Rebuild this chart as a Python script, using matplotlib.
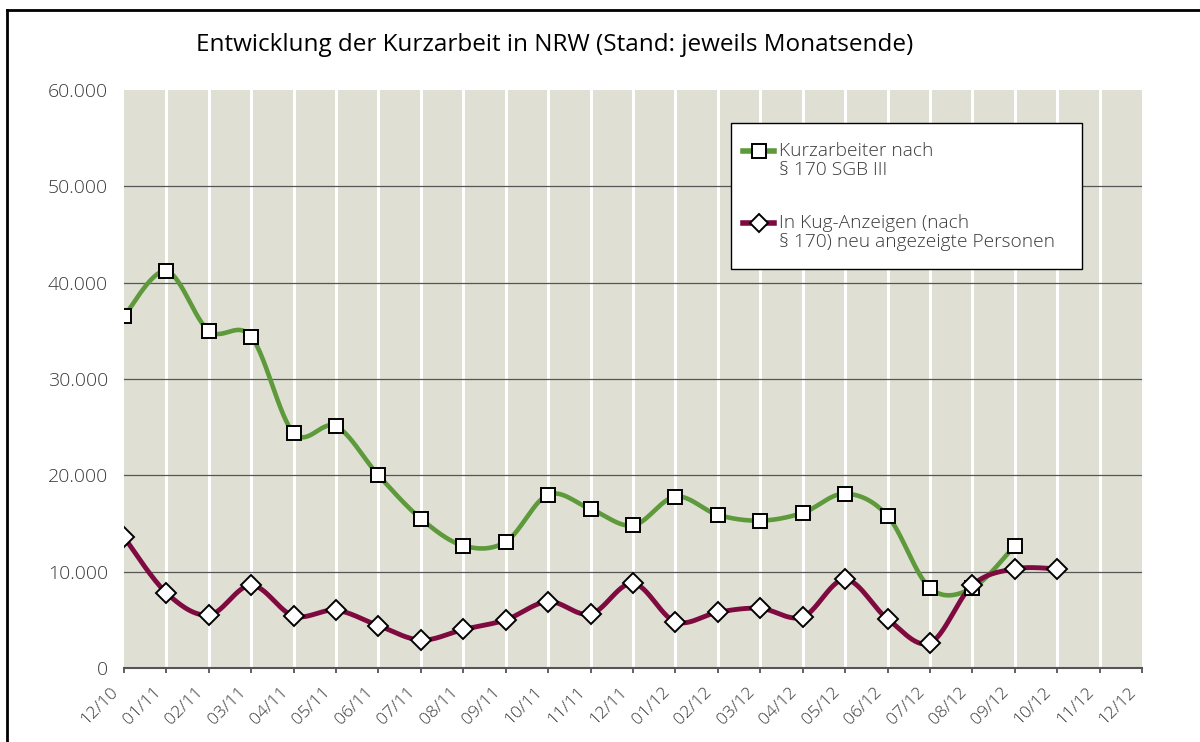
import numpy as np
import matplotlib
matplotlib.use('Agg')
import matplotlib.pyplot as plt
from matplotlib.lines import Line2D
from matplotlib.patches import Rectangle
from matplotlib.transforms import ScaledTranslation, blended_transform_factory

plt.rcParams['font.family'] = ['Open Sans', 'DejaVu Sans']

# month labels, 12/10 .. 12/12
months = ['12/10', '01/11', '02/11', '03/11', '04/11', '05/11', '06/11', '07/11',
          '08/11', '09/11', '10/11', '11/11', '12/11', '01/12', '02/12', '03/12',
          '04/12', '05/12', '06/12', '07/12', '08/12', '09/12', '10/12', '11/12',
          '12/12']

# Kurzarbeiter nach § 170 SGB III (up to 09/12)
kurzarbeiter = [36500, 41200, 35000, 34400, 24400, 25100, 20000, 15500,
                12700, 13100, 18000, 16500, 14800, 17800, 15900, 15300,
                16100, 18100, 15800, 8300, 8300, 12700]

# neu angezeigte Personen (up to 10/12)
anzeigen = [13600, 7800, 5500, 8600, 5400, 6000, 4400, 2900,
            4000, 5000, 6900, 5600, 8800, 4800, 5800, 6200,
            5300, 9200, 5100, 2600, 8600, 10300, 10300]

yticks = [0, 10000, 20000, 30000, 40000, 50000, 60000]
ytick_labels = ['0', '10.000', '20.000', '30.000', '40.000', '50.000', '60.000']

legend_lines = [['Kurzarbeiter nach', '§ 170 SGB III'],
                ['In Kug-Anzeigen (nach', '§ 170) neu angezeigte Personen']]

GREEN = '#5e9a3c'
MAROON = '#7e0a40'
BG = '#dfe0d3'
TXT = '#3a3a3a'
LIGHT = 'light'

W, H = 1200, 742   # figure size in px, used for placing the frame/legend


def smooth(x, y, n=30):
    # excel like smoothed line (catmull-rom via bezier segments)
    x = np.asarray(x, float)
    y = np.asarray(y, float)
    px = np.concatenate([[x[0]], x, [x[-1]]])
    py = np.concatenate([[y[0]], y, [y[-1]]])
    t = np.linspace(0, 1, n)
    xs, ys = [], []
    for i in range(1, len(px) - 2):
        p0 = np.array([px[i - 1], py[i - 1]])
        p1 = np.array([px[i], py[i]])
        p2 = np.array([px[i + 1], py[i + 1]])
        p3 = np.array([px[i + 2], py[i + 2]])
        c1 = p1 + (p2 - p0) / 6.0
        c2 = p2 - (p3 - p1) / 6.0
        for tt in t:
            b = ((1 - tt) ** 3) * p1 + 3 * ((1 - tt) ** 2) * tt * c1 \
                + 3 * (1 - tt) * tt ** 2 * c2 + tt ** 3 * p2
            xs.append(b[0])
            ys.append(b[1])
    return xs, ys


def fx(px):
    return px / W


def fy(py):
    return 1 - py / H


fig = plt.figure(figsize=(12, 7.42), dpi=100)
ax = fig.add_axes([0.1033, 0.0997, 0.8484, 0.779])
ax.set_facecolor(BG)

xk = np.arange(len(kurzarbeiter))
xa = np.arange(len(anzeigen))

sx, sy = smooth(xk, kurzarbeiter)
ax.plot(sx, sy, color=GREEN, lw=3.3, solid_capstyle='round', zorder=3)
ax.plot(xk, kurzarbeiter, ls='none', marker='s', ms=10.5, mfc='white',
        mec='black', mew=1.4, zorder=5)

sx, sy = smooth(xa, anzeigen)
ax.plot(sx, sy, color=MAROON, lw=3.5, solid_capstyle='round', zorder=4)
ax.plot(xa, anzeigen, ls='none', marker='D', ms=10, mfc='white',
        mec='black', mew=1.4, zorder=6)

ax.set_xlim(0, len(months) - 1)
ax.set_ylim(0, 60000)

# grid: white verticals, dark horizontals
for i in range(1, len(months) - 1):
    ax.axvline(i, color='white', lw=2.2, zorder=1)
for v in yticks[1:-1]:
    ax.axhline(v, color='#555555', lw=0.9, zorder=1.5)

ax.set_yticks(yticks)
ax.set_yticklabels(ytick_labels, fontweight=LIGHT)
ax.set_xticks(range(len(months)))
ax.set_xticklabels([])

# rotated month labels, placed a bit left of / below each tick
trans = blended_transform_factory(ax.transData, ax.transAxes) + \
    ScaledTranslation(-0.08, -0.22, fig.dpi_scale_trans)
for i, m in enumerate(months):
    ax.text(i, 0, m, transform=trans, rotation=45, rotation_mode='anchor',
            ha='right', va='center', fontsize=12.5, color=TXT, fontweight=LIGHT,
            clip_on=False)

for s in ['top', 'right', 'left']:
    ax.spines[s].set_visible(False)
ax.spines['bottom'].set_color('#555555')
ax.spines['bottom'].set_linewidth(1.5)
ax.tick_params(axis='y', length=0, pad=11.5, labelsize=14, labelcolor=TXT)
ax.tick_params(axis='x', length=3.8, width=1.3, color='#555555')

fig.text(0.4625, 0.94, 'Entwicklung der Kurzarbeit in NRW (Stand: jeweils Monatsende)',
         ha='center', va='center', fontsize=17.5, color='black')

# legend box, drawn by hand so the spacing matches
fig.add_artist(Rectangle((fx(731), fy(269)), fx(1082) - fx(731), fy(123) - fy(269),
                         transform=fig.transFigure, facecolor='white',
                         edgecolor='black', lw=1.0, zorder=10))
styles = [(GREEN, 's', 9.5), (MAROON, 'D', 9)]
for (col, mk, ms), lines, ytop in zip(styles, legend_lines, [151, 223]):
    fig.add_artist(Line2D([fx(743), fx(774)], [fy(ytop), fy(ytop)], color=col,
                          lw=4, transform=fig.transFigure, zorder=11))
    fig.add_artist(Line2D([fx(758.5)], [fy(ytop)], ls='none', marker=mk, ms=ms,
                          mfc='white', mec='black', mew=1.4,
                          transform=fig.transFigure, zorder=12))
    for k, line in enumerate(lines):
        fig.text(fx(779), fy(ytop + 19 * k), line, ha='left', va='center',
                 fontsize=13.8, color=TXT, fontweight=LIGHT, zorder=12)

# outer frame of the chart object
fig.add_artist(Line2D([0.006, 1.0], [0.987, 0.987], color='black', lw=2.0,
                      transform=fig.transFigure))
fig.add_artist(Line2D([0.006, 0.006], [0.0, 0.987], color='black', lw=2.0,
                      transform=fig.transFigure))

fig.savefig('out.png', dpi=100)
